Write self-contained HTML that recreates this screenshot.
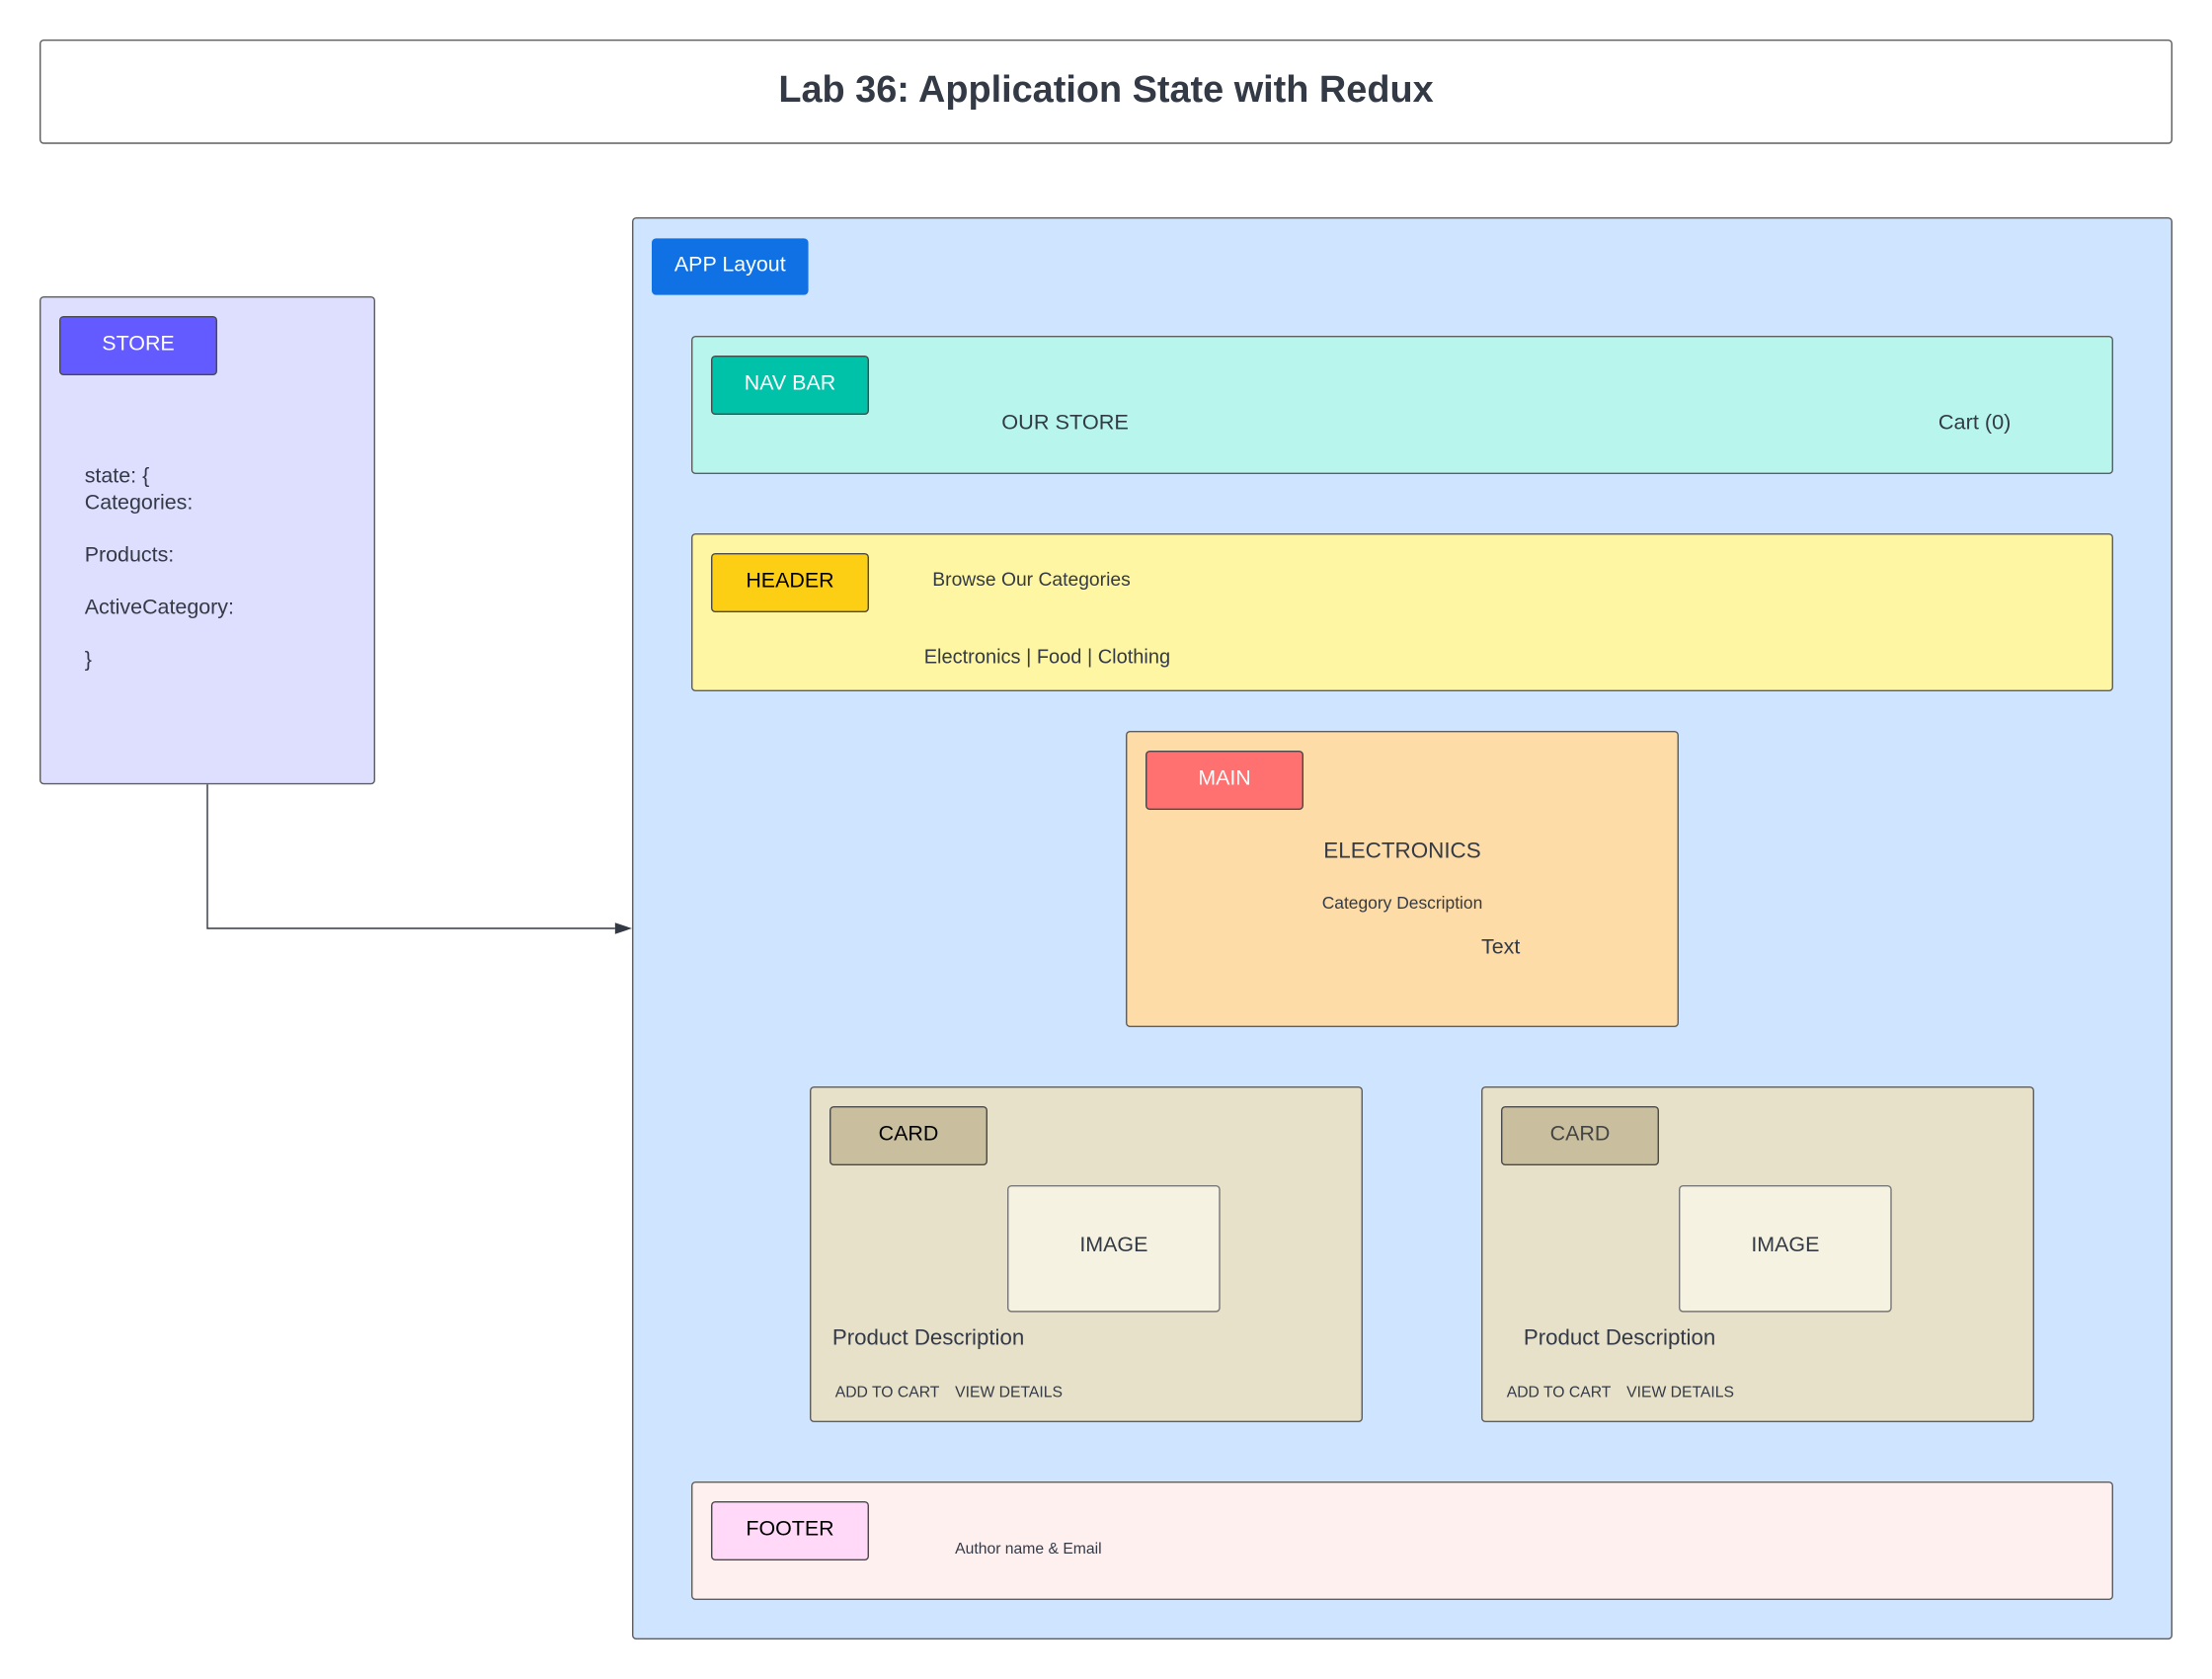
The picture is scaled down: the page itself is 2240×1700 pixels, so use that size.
<!DOCTYPE html>
<html><head><meta charset="utf-8"><style>
html,body{margin:0;padding:0;background:#fff;}
body{width:2240px;height:1700px;overflow:hidden;position:relative;}
#w{position:absolute;left:0;top:0;width:1568px;height:1190px;transform:scale(1.4285714);transform-origin:0 0;font-family:"Liberation Sans",sans-serif;color:#333a45;}
.b{position:absolute;box-sizing:border-box;border:1px solid #5e5e5e;border-radius:3px;}
.g{position:absolute;box-sizing:border-box;border:1px solid #4a4a4a;border-radius:3px;display:flex;align-items:center;justify-content:center;font-size:15px;padding-bottom:3px;}
.t{position:absolute;white-space:nowrap;line-height:1;}
</style></head><body><div id="w">
<div class="b" style="left:28px;top:28px;width:1512px;height:74px;display:flex;align-items:center;justify-content:center;font-weight:bold;font-size:26.5px;padding-bottom:3px;">Lab 36: Application State with Redux</div>

<div class="b" style="left:28px;top:210px;width:238px;height:346px;background:#dedeff;"></div>
<div class="g" style="left:42px;top:224px;width:112px;height:42px;background:#635bff;color:#fff;">STORE</div>
<div class="t" style="left:60px;top:329px;font-size:15px;line-height:18.5px;">state: {<br>Categories:<br><br>Products:<br><br>ActiveCategory:<br><br>}</div>

<svg style="position:absolute;left:0;top:0" width="1568" height="1190"><path d="M147 556 V658 H436" fill="none" stroke="#333a45" stroke-width="1"/><path d="M448 658 L436 654 L436 662 Z" fill="#333a45"/></svg>

<div class="b" style="left:448px;top:154px;width:1092px;height:1008px;background:#cfe4ff;"></div>
<div class="g" style="left:462px;top:169px;width:111px;height:40px;background:#1071e5;color:#fff;border-color:#1071e5;">APP Layout</div>

<div class="b" style="left:490px;top:238px;width:1008px;height:98px;background:#b8f5ed;"></div>
<div class="g" style="left:504px;top:252px;width:112px;height:42px;background:#00c2a8;color:#fff;">NAV BAR</div>
<div class="t" style="left:710px;top:292px;font-size:15.2px;">OUR STORE</div>
<div class="t" style="left:1374px;top:292px;font-size:15.2px;">Cart (0)</div>

<div class="b" style="left:490px;top:378px;width:1008px;height:112px;background:#fff6a3;"></div>
<div class="g" style="left:504px;top:392px;width:112px;height:42px;background:#fccf14;color:#000;">HEADER</div>
<div class="t" style="left:661px;top:404px;font-size:13.5px;">Browse Our Categories</div>
<div class="t" style="left:655px;top:458px;font-size:14px;">Electronics | Food | Clothing</div>

<div class="b" style="left:798px;top:518px;width:392px;height:210px;background:#fedca8;"></div>
<div class="g" style="left:812px;top:532px;width:112px;height:42px;background:#ff7070;color:#fff;">MAIN</div>
<div class="t" style="left:798px;width:392px;text-align:center;top:596px;font-size:15.7px;">ELECTRONICS</div>
<div class="t" style="left:798px;width:392px;text-align:center;top:634px;font-size:12.2px;">Category Description</div>
<div class="t" style="left:1050px;top:664px;font-size:15px;">Text</div>

<div class="b" style="left:574px;top:770px;width:392px;height:238px;background:#e8e1c9;"></div>
<div class="g" style="left:588px;top:784px;width:112px;height:42px;background:#c9bf9f;color:#000;">CARD</div>
<div class="g" style="left:714px;top:840px;width:151px;height:90px;background:#f6f2e2;border-color:#777;padding-bottom:6px;">IMAGE</div>
<div class="t" style="left:590px;top:941px;font-size:15.6px;">Product Description</div>
<div class="t" style="left:592px;top:982px;font-size:11px;">ADD TO CART</div>
<div class="t" style="left:677px;top:982px;font-size:11px;">VIEW DETAILS</div>

<div class="b" style="left:1050px;top:770px;width:392px;height:238px;background:#e8e1c9;"></div>
<div class="g" style="left:1064px;top:784px;width:112px;height:42px;background:#c9bf9f;color:#444;">CARD</div>
<div class="g" style="left:1190px;top:840px;width:151px;height:90px;background:#f6f2e2;border-color:#777;padding-bottom:6px;">IMAGE</div>
<div class="t" style="left:1080px;top:941px;font-size:15.6px;">Product Description</div>
<div class="t" style="left:1068px;top:982px;font-size:11px;">ADD TO CART</div>
<div class="t" style="left:1153px;top:982px;font-size:11px;">VIEW DETAILS</div>

<div class="b" style="left:490px;top:1050px;width:1008px;height:84px;background:#fff0f0;"></div>
<div class="g" style="left:504px;top:1064px;width:112px;height:42px;background:#ffd9f7;color:#000;">FOOTER</div>
<div class="t" style="left:677px;top:1093px;font-size:11px;">Author name &amp; Email</div>
</div></body></html>
